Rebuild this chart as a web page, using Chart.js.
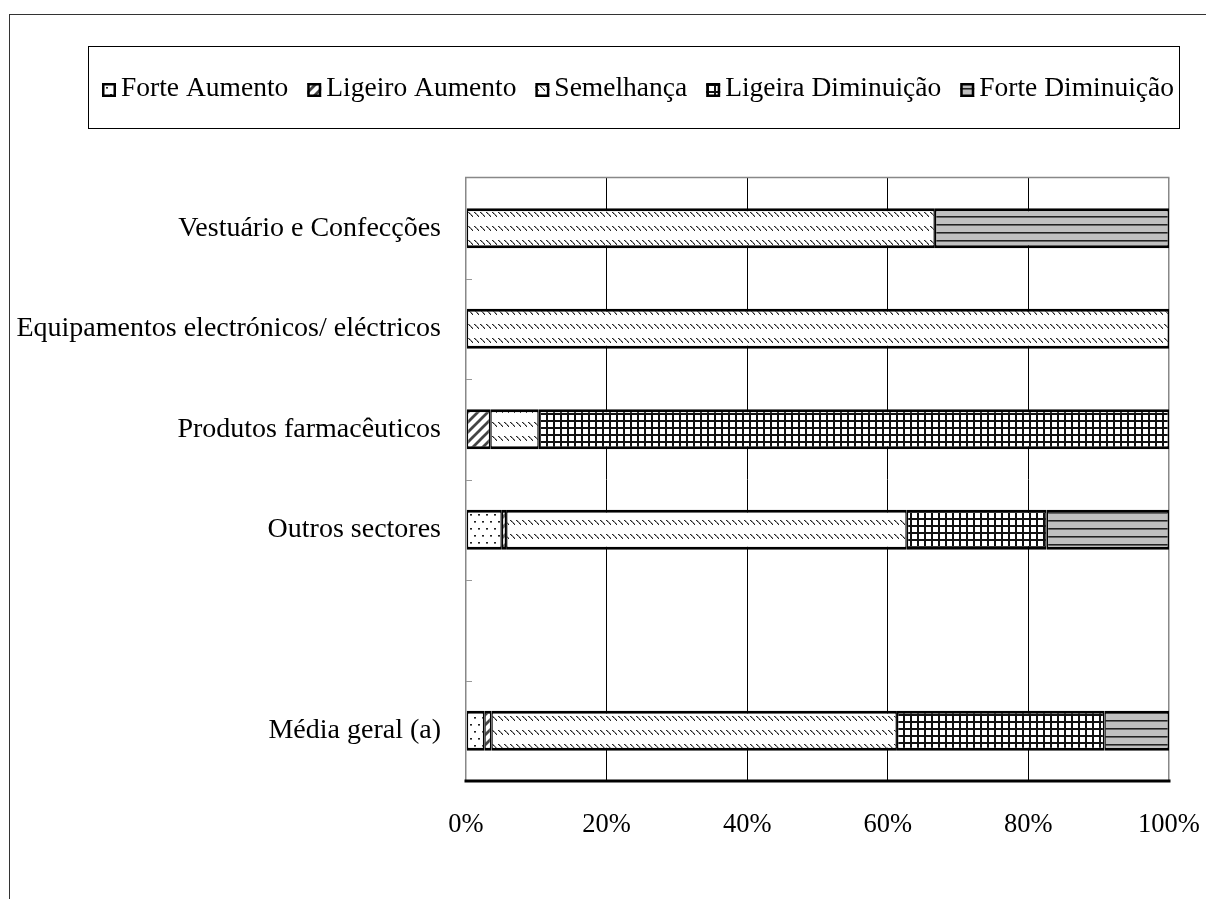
<!DOCTYPE html>
<html><head><meta charset="utf-8">
<script src="https://cdn.jsdelivr.net/npm/chart.js@4.4.1/dist/chart.umd.min.js"></script>
<style>html,body{margin:0;padding:0;background:#fff}#wrap{width:1206px;height:899px;position:relative}</style>
</head><body><div id="wrap"><canvas id="c" width="1206" height="899"></canvas></div>
<script>
// ---- data ----
const categories = ['Vestuário e Confecções','Equipamentos electrónicos/ eléctricos','Produtos farmacêuticos','Outros sectores','','Média geral (a)'];
const seriesNames = ['Forte Aumento','Ligeiro Aumento','Semelhança','Ligeira Diminuição','Forte Diminuição'];
const forteAumento     = [null, null, null, 5.1, null, 2.6];
const ligeiroAumento   = [null, null, 3.45, 0.6, null, 1.0];
const semelhanca       = [66.7, 100, 6.9, 57.0, null, 57.7];
const ligeiraDiminuicao= [null, null, 89.65, 19.9, null, 29.5];
const forteDiminuicao  = [33.3, null, null, 17.4, null, 9.2];
const xTickValues = [0, 20, 40, 60, 80, 100];

// ---- patterns ----
function tile(w, h, draw) {
  const c = document.createElement('canvas'); c.width = w; c.height = h;
  const g = c.getContext('2d'); draw(g, w, h);
  return document.getElementById('c').getContext('2d').createPattern(c, 'repeat');
}
const pDots = tile(8, 14, (g) => {
  g.fillStyle = '#fff'; g.fillRect(0,0,8,14);
  g.fillStyle = '#222'; g.fillRect(2,3,2,1); g.fillRect(6,10,2,1);
  g.fillStyle = '#777'; g.fillRect(2,4,2,1); g.fillRect(6,11,2,1);
});
const pDiag = tile(10, 10, (g) => {
  g.fillStyle = '#fff'; g.fillRect(0,0,10,10);
  g.strokeStyle = '#444'; g.lineWidth = 2.8;
  g.beginPath();
  g.moveTo(-2,2); g.lineTo(2,-2);
  g.moveTo(0,10); g.lineTo(10,0);
  g.moveTo(8,12); g.lineTo(12,8);
  g.stroke();
});
const pBack = tile(6, 14, (g) => {
  g.fillStyle = '#fff'; g.fillRect(0,0,6,14);
  for (let k = 0; k < 5; k++) { g.fillStyle = (k === 2) ? '#666' : '#222'; g.fillRect(k, 2 + k, 1, 1); }
  g.fillStyle = '#999'; for (let k = 0; k < 4; k++) g.fillRect(k + 1, 2 + k, 1, 1);
});
const pGrid = tile(7, 7, (g) => {
  g.fillStyle = '#fff'; g.fillRect(0,0,7,7);
  g.fillStyle = '#111'; g.fillRect(0,0,7,2); g.fillRect(0,0,2,7);
});
const pHoriz = tile(8, 8, (g) => {
  g.fillStyle = '#c0c0c0'; g.fillRect(0,0,8,8);
  g.fillStyle = '#222'; g.fillRect(0,0,8,1);
  g.fillStyle = '#666'; g.fillRect(0,1,8,1);
});
const fills = [pDots, pDiag, pBack, pGrid, pHoriz];
const seriesData = [forteAumento, ligeiroAumento, semelhanca, ligeiraDiminuicao, forteDiminuicao];

const FONT = '"Liberation Serif", "Times New Roman", serif';

// ---- plugins ----
const decor = {
  id: 'decor',
  beforeDraw(chart) {
    const g = chart.ctx;
    g.save();
    g.fillStyle = '#fff'; g.fillRect(0,0,chart.width,chart.height);
    g.restore();
  },
  afterDraw(chart) {
    const g = chart.ctx, a = chart.chartArea, y = chart.scales.y;
    g.save();
    // outer frame
    g.strokeStyle = '#333'; g.lineWidth = 1;
    g.strokeRect(9.5, 14.5, 1300, 1000);
    // plot area frame: top gray, bottom black
    g.strokeStyle = '#888'; g.lineWidth = 1.5;
    g.beginPath(); g.moveTo(a.left - 1, a.top - 0.5); g.lineTo(a.right + 0.5, a.top - 0.5); g.stroke();
    g.strokeStyle = '#000'; g.lineWidth = 3;
    g.beginPath(); g.moveTo(a.left - 1.5, a.bottom); g.lineTo(a.right + 1.5, a.bottom); g.stroke();
    // category boundary ticks (inside)
    g.strokeStyle = '#999'; g.lineWidth = 1;
    for (let i = 0; i < categories.length - 1; i++) {
      const py = Math.round((y.getPixelForValue(i) + y.getPixelForValue(i + 1)) / 2) + 0.5;
      g.beginPath(); g.moveTo(a.left, py); g.lineTo(a.left + 6, py); g.stroke();
    }
    // legend
    g.strokeStyle = '#000'; g.lineWidth = 1;
    g.strokeRect(88.5, 46.5, 1091, 82);
    g.font = '27.5px ' + FONT;
    g.textBaseline = 'middle';
    const box = 14, gap = 5;
    const widths = seriesNames.map(s => g.measureText(s).width);
    const startX = 102, endX = 1174;
    const sum = widths.reduce((p, c) => p + c, 0) + seriesNames.length * (box + gap);
    const sp = (endX - startX - sum) / (seriesNames.length - 1);
    let x = startX;
    seriesNames.forEach((s, i) => {
      g.fillStyle = fills[i];
      g.fillRect(x, 83, box, box);
      g.strokeStyle = '#000'; g.lineWidth = 2.5;
      g.strokeRect(x + 1.25, 84.25, box - 2.5, box - 2.5);
      g.fillStyle = '#000';
      g.fillText(s, x + box + gap, 89);
      x += box + gap + widths[i] + sp;
    });
    g.restore();
  }
};

const datasets = seriesNames.map((name, i) => ({
  label: name,
  data: seriesData[i],
  backgroundColor: fills[i],
  borderColor: '#000',
  borderWidth: { top: 3, bottom: 3, left: 1.5, right: 1.5 },
  borderSkipped: false,
  categoryPercentage: 0.8,
  barPercentage: 0.5
}));

new Chart(document.getElementById('c'), {
  type: 'bar',
  data: { labels: categories, datasets },
  plugins: [decor],
  options: {
    indexAxis: 'y',
    responsive: false,
    devicePixelRatio: 1,
    animation: false,
    layout: { padding: { left: 0, top: 178, right: 37, bottom: 0 } },
    plugins: { legend: { display: false }, tooltip: { enabled: false } },
    scales: {
      x: {
        stacked: true, min: 0, max: 100,
        afterBuildTicks: (s) => { s.ticks = xTickValues.map(v => ({ value: v })); },
        afterFit: (s) => { s.height = 118; s.paddingLeft = 0; s.paddingRight = 0; },
        border: { display: false },
        grid: {
          drawTicks: false,
          color: (c) => (c.tick && (c.tick.value === 0 || c.tick.value === 100)) ? '#888' : '#000',
          lineWidth: (c) => (c.tick && (c.tick.value === 0 || c.tick.value === 100)) ? 1.5 : 1
        },
        ticks: {
          padding: 28, color: '#000',
          font: { family: FONT, size: 26.5 },
          callback: (v) => v + '%'
        }
      },
      y: {
        stacked: true,
        afterFit: (s) => { s.width = 466; s.paddingTop = 0; s.paddingBottom = 0; },
        border: { display: false },
        grid: { display: false },
        ticks: { padding: 17, color: '#000', font: { family: FONT, size: 28 } }
      }
    }
  }
});
</script></body></html>
